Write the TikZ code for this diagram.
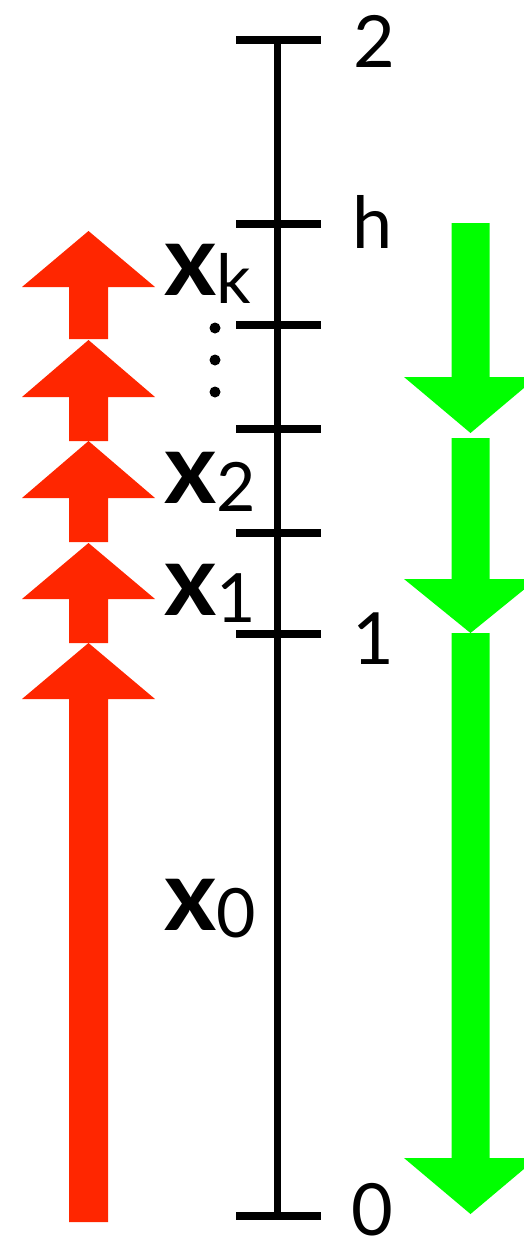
\documentclass[tikz,border=0pt]{standalone}
\usepackage{fontspec}
\setmainfont{Lato}
\definecolor{arrred}{RGB}{255,38,0}
\definecolor{arrgreen}{RGB}{0,255,0}
\newcommand\redup[3]{\fill[arrred] (88.5,#1) -- (155,#2) -- (108,#2) -- (108,#3) -- (69,#3) -- (69,#2) -- (22,#2) -- cycle;}
\newcommand\greendown[3]{\fill[arrgreen] (470.5,#1) -- (537,#2) -- (489.5,#2) -- (489.5,#3) -- (451.5,#3) -- (451.5,#2) -- (404,#2) -- cycle;}
\newcommand\axfont{\fontsize{72}{72}\selectfont}
\newcommand\bigx{\fontsize{100}{100}\selectfont\bfseries}
\newcommand\subf{\fontsize{68}{68}\selectfont\mdseries}
\begin{document}
\begin{tikzpicture}[x=1pt,y=-1pt,
  axisline/.style={line width=7pt},
  tickline/.style={line width=8pt},
  axlabel/.style={inner sep=0pt, anchor=base west, font=\axfont},
  xlabel/.style={inner sep=0pt, anchor=base west},
  dotmark/.style={fill=black}]
\useasboundingbox (0,0) rectangle (523,1239);
% arrows
\redup{231}{287}{339}
\redup{340}{397}{441}
\redup{441}{498}{542}
\redup{543}{599}{643}
\redup{643}{699}{1222}
\greendown{433}{377}{223}
\greendown{633}{579}{438}
\greendown{1214}{1158}{633}
% axis
\coordinate (top) at (277,40);
\coordinate (bot) at (277,1216);
\draw[axisline] (top) -- (bot);
\foreach \y/\n in {40/t2,224/th,325/t3,429/t4,533/t5,634/t1,1216/t0}{
  \coordinate (\n) at (277,\y);
  \draw[tickline] ([xshift=-41pt]\n) -- ([xshift=44pt]\n);
}
% axis labels
\node[axlabel] (l2) at (353,67) {2};
\node[axlabel] (lh) at (352,248) {h};
\node[axlabel, anchor=base] (l1) at (373,664) {1};
\node[axlabel] (l0) at (351,1235) {0};
% x labels
\node[xlabel] (xk) at (164,295) {\bigx x\raisebox{-8pt}{\subf k}};
\node[xlabel] (x2) at (164,503) {\bigx x\raisebox{-8pt}{\subf 2}};
\node[xlabel] (x1) at (164,615) {\bigx x\raisebox{-7pt}{\subf 1}};
\node[xlabel] (x0) at (164,930) {\bigx x\raisebox{-7pt}{\subf 0}};
% dots
\foreach \y in {328,360,392}{\fill[dotmark] (215,\y) circle[radius=5.5pt];}
\end{tikzpicture}
\end{document}
